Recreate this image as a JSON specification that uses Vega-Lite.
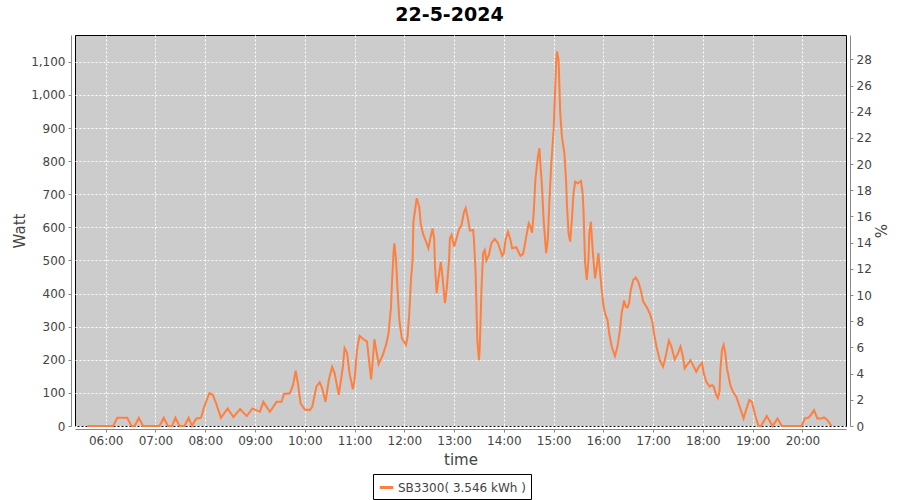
{
  "$schema": "https://vega.github.io/schema/vega-lite/v6.json",
  "autosize": "none",
  "width": 771,
  "height": 391,
  "padding": {"left": 75, "top": 35, "right": 54, "bottom": 74},
  "background": "white",
  "title": {"text": "22-5-2024", "fontSize": 19, "fontWeight": "bold", "font": "DejaVu Sans", "color": "black", "anchor": "middle", "frame": "bounds", "offset": 10},
  "config": {
    "view": {"fill": "#cccccc", "stroke": "black", "strokeWidth": 1},
    "axis": {"labelFont": "DejaVu Sans", "labelFontSize": 12, "labelColor": "#444444", "titleFont": "DejaVu Sans", "titleFontSize": 15, "titleFontWeight": "normal", "titleColor": "#444444", "domainColor": "#888888", "tickColor": "#888888", "tickSize": 3, "gridColor": "white", "gridDash": [2, 2], "gridWidth": 1, "gridOpacity": 1}
  },
  "data": {"values": [
    {"time": "2024-05-22T05:38:00", "watt": 0},
    {"time": "2024-05-22T06:09:00", "watt": 0},
    {"time": "2024-05-22T06:14:00", "watt": 25},
    {"time": "2024-05-22T06:26:00", "watt": 25},
    {"time": "2024-05-22T06:31:00", "watt": 0},
    {"time": "2024-05-22T06:35:00", "watt": 0},
    {"time": "2024-05-22T06:40:00", "watt": 25},
    {"time": "2024-05-22T06:45:00", "watt": 0},
    {"time": "2024-05-22T07:05:00", "watt": 0},
    {"time": "2024-05-22T07:10:00", "watt": 25},
    {"time": "2024-05-22T07:15:00", "watt": 0},
    {"time": "2024-05-22T07:20:00", "watt": 0},
    {"time": "2024-05-22T07:24:00", "watt": 25},
    {"time": "2024-05-22T07:29:00", "watt": 0},
    {"time": "2024-05-22T07:35:00", "watt": 0},
    {"time": "2024-05-22T07:40:00", "watt": 25},
    {"time": "2024-05-22T07:44:00", "watt": 0},
    {"time": "2024-05-22T07:49:00", "watt": 22},
    {"time": "2024-05-22T07:55:00", "watt": 25},
    {"time": "2024-05-22T07:59:00", "watt": 60},
    {"time": "2024-05-22T08:05:00", "watt": 99},
    {"time": "2024-05-22T08:09:00", "watt": 95},
    {"time": "2024-05-22T08:13:00", "watt": 69},
    {"time": "2024-05-22T08:19:00", "watt": 25},
    {"time": "2024-05-22T08:27:00", "watt": 53},
    {"time": "2024-05-22T08:34:00", "watt": 27},
    {"time": "2024-05-22T08:42:00", "watt": 51},
    {"time": "2024-05-22T08:50:00", "watt": 30},
    {"time": "2024-05-22T08:57:00", "watt": 53},
    {"time": "2024-05-22T09:02:00", "watt": 47},
    {"time": "2024-05-22T09:06:00", "watt": 43},
    {"time": "2024-05-22T09:10:00", "watt": 73},
    {"time": "2024-05-22T09:18:00", "watt": 43},
    {"time": "2024-05-22T09:26:00", "watt": 73},
    {"time": "2024-05-22T09:32:00", "watt": 73},
    {"time": "2024-05-22T09:35:00", "watt": 97},
    {"time": "2024-05-22T09:42:00", "watt": 99},
    {"time": "2024-05-22T09:46:00", "watt": 124},
    {"time": "2024-05-22T09:49:00", "watt": 167},
    {"time": "2024-05-22T09:52:00", "watt": 124},
    {"time": "2024-05-22T09:55:00", "watt": 68},
    {"time": "2024-05-22T10:00:00", "watt": 50},
    {"time": "2024-05-22T10:06:00", "watt": 48},
    {"time": "2024-05-22T10:09:00", "watt": 58},
    {"time": "2024-05-22T10:14:00", "watt": 119},
    {"time": "2024-05-22T10:18:00", "watt": 132},
    {"time": "2024-05-22T10:21:00", "watt": 114},
    {"time": "2024-05-22T10:25:00", "watt": 73},
    {"time": "2024-05-22T10:29:00", "watt": 139},
    {"time": "2024-05-22T10:33:00", "watt": 179},
    {"time": "2024-05-22T10:36:00", "watt": 159},
    {"time": "2024-05-22T10:41:00", "watt": 94},
    {"time": "2024-05-22T10:46:00", "watt": 179},
    {"time": "2024-05-22T10:48:00", "watt": 235},
    {"time": "2024-05-22T10:51:00", "watt": 220},
    {"time": "2024-05-22T10:54:00", "watt": 159},
    {"time": "2024-05-22T10:58:00", "watt": 111},
    {"time": "2024-05-22T11:00:00", "watt": 139},
    {"time": "2024-05-22T11:03:00", "watt": 230},
    {"time": "2024-05-22T11:06:00", "watt": 272},
    {"time": "2024-05-22T11:12:00", "watt": 260},
    {"time": "2024-05-22T11:15:00", "watt": 255},
    {"time": "2024-05-22T11:20:00", "watt": 141},
    {"time": "2024-05-22T11:22:00", "watt": 199},
    {"time": "2024-05-22T11:24:00", "watt": 262},
    {"time": "2024-05-22T11:29:00", "watt": 187},
    {"time": "2024-05-22T11:34:00", "watt": 214},
    {"time": "2024-05-22T11:38:00", "watt": 245},
    {"time": "2024-05-22T11:41:00", "watt": 280},
    {"time": "2024-05-22T11:44:00", "watt": 360},
    {"time": "2024-05-22T11:45:00", "watt": 426},
    {"time": "2024-05-22T11:47:00", "watt": 522},
    {"time": "2024-05-22T11:48:00", "watt": 552},
    {"time": "2024-05-22T11:50:00", "watt": 502},
    {"time": "2024-05-22T11:52:00", "watt": 406},
    {"time": "2024-05-22T11:54:00", "watt": 320},
    {"time": "2024-05-22T11:57:00", "watt": 265},
    {"time": "2024-05-22T12:02:00", "watt": 245},
    {"time": "2024-05-22T12:04:00", "watt": 270},
    {"time": "2024-05-22T12:06:00", "watt": 340},
    {"time": "2024-05-22T12:08:00", "watt": 441},
    {"time": "2024-05-22T12:10:00", "watt": 502},
    {"time": "2024-05-22T12:11:00", "watt": 617},
    {"time": "2024-05-22T12:15:00", "watt": 688},
    {"time": "2024-05-22T12:18:00", "watt": 662},
    {"time": "2024-05-22T12:20:00", "watt": 607},
    {"time": "2024-05-22T12:23:00", "watt": 577},
    {"time": "2024-05-22T12:27:00", "watt": 552},
    {"time": "2024-05-22T12:29:00", "watt": 537},
    {"time": "2024-05-22T12:31:00", "watt": 562},
    {"time": "2024-05-22T12:34:00", "watt": 597},
    {"time": "2024-05-22T12:36:00", "watt": 567},
    {"time": "2024-05-22T12:37:00", "watt": 481},
    {"time": "2024-05-22T12:39:00", "watt": 401},
    {"time": "2024-05-22T12:41:00", "watt": 441},
    {"time": "2024-05-22T12:44:00", "watt": 496},
    {"time": "2024-05-22T12:46:00", "watt": 451},
    {"time": "2024-05-22T12:49:00", "watt": 371},
    {"time": "2024-05-22T12:51:00", "watt": 411},
    {"time": "2024-05-22T12:54:00", "watt": 502},
    {"time": "2024-05-22T12:55:00", "watt": 567},
    {"time": "2024-05-22T12:57:00", "watt": 577},
    {"time": "2024-05-22T13:00:00", "watt": 542},
    {"time": "2024-05-22T13:03:00", "watt": 567},
    {"time": "2024-05-22T13:06:00", "watt": 594},
    {"time": "2024-05-22T13:09:00", "watt": 607},
    {"time": "2024-05-22T13:12:00", "watt": 647},
    {"time": "2024-05-22T13:14:00", "watt": 658},
    {"time": "2024-05-22T13:17:00", "watt": 622},
    {"time": "2024-05-22T13:19:00", "watt": 590},
    {"time": "2024-05-22T13:23:00", "watt": 592},
    {"time": "2024-05-22T13:24:00", "watt": 562},
    {"time": "2024-05-22T13:26:00", "watt": 461},
    {"time": "2024-05-22T13:28:00", "watt": 260},
    {"time": "2024-05-22T13:30:00", "watt": 199},
    {"time": "2024-05-22T13:31:00", "watt": 240},
    {"time": "2024-05-22T13:33:00", "watt": 411},
    {"time": "2024-05-22T13:35:00", "watt": 522},
    {"time": "2024-05-22T13:37:00", "watt": 532},
    {"time": "2024-05-22T13:39:00", "watt": 500},
    {"time": "2024-05-22T13:42:00", "watt": 517},
    {"time": "2024-05-22T13:45:00", "watt": 552},
    {"time": "2024-05-22T13:49:00", "watt": 565},
    {"time": "2024-05-22T13:53:00", "watt": 552},
    {"time": "2024-05-22T13:58:00", "watt": 514},
    {"time": "2024-05-22T14:00:00", "watt": 522},
    {"time": "2024-05-22T14:02:00", "watt": 562},
    {"time": "2024-05-22T14:05:00", "watt": 587},
    {"time": "2024-05-22T14:08:00", "watt": 562},
    {"time": "2024-05-22T14:10:00", "watt": 537},
    {"time": "2024-05-22T14:15:00", "watt": 540},
    {"time": "2024-05-22T14:20:00", "watt": 514},
    {"time": "2024-05-22T14:23:00", "watt": 519},
    {"time": "2024-05-22T14:25:00", "watt": 542},
    {"time": "2024-05-22T14:27:00", "watt": 572},
    {"time": "2024-05-22T14:30:00", "watt": 612},
    {"time": "2024-05-22T14:32:00", "watt": 602},
    {"time": "2024-05-22T14:34:00", "watt": 584},
    {"time": "2024-05-22T14:36:00", "watt": 643},
    {"time": "2024-05-22T14:38:00", "watt": 743},
    {"time": "2024-05-22T14:41:00", "watt": 813},
    {"time": "2024-05-22T14:43:00", "watt": 839},
    {"time": "2024-05-22T14:44:00", "watt": 794},
    {"time": "2024-05-22T14:46:00", "watt": 723},
    {"time": "2024-05-22T14:48:00", "watt": 622},
    {"time": "2024-05-22T14:51:00", "watt": 522},
    {"time": "2024-05-22T14:53:00", "watt": 562},
    {"time": "2024-05-22T14:55:00", "watt": 683},
    {"time": "2024-05-22T14:57:00", "watt": 784},
    {"time": "2024-05-22T15:00:00", "watt": 894},
    {"time": "2024-05-22T15:02:00", "watt": 1025},
    {"time": "2024-05-22T15:03:00", "watt": 1096},
    {"time": "2024-05-22T15:04:00", "watt": 1131},
    {"time": "2024-05-22T15:06:00", "watt": 1106},
    {"time": "2024-05-22T15:07:00", "watt": 1025},
    {"time": "2024-05-22T15:08:00", "watt": 945},
    {"time": "2024-05-22T15:10:00", "watt": 874},
    {"time": "2024-05-22T15:13:00", "watt": 824},
    {"time": "2024-05-22T15:15:00", "watt": 743},
    {"time": "2024-05-22T15:16:00", "watt": 673},
    {"time": "2024-05-22T15:18:00", "watt": 582},
    {"time": "2024-05-22T15:20:00", "watt": 557},
    {"time": "2024-05-22T15:22:00", "watt": 622},
    {"time": "2024-05-22T15:24:00", "watt": 703},
    {"time": "2024-05-22T15:26:00", "watt": 738},
    {"time": "2024-05-22T15:29:00", "watt": 733},
    {"time": "2024-05-22T15:33:00", "watt": 740},
    {"time": "2024-05-22T15:35:00", "watt": 703},
    {"time": "2024-05-22T15:36:00", "watt": 652},
    {"time": "2024-05-22T15:37:00", "watt": 572},
    {"time": "2024-05-22T15:38:00", "watt": 492},
    {"time": "2024-05-22T15:40:00", "watt": 441},
    {"time": "2024-05-22T15:42:00", "watt": 502},
    {"time": "2024-05-22T15:43:00", "watt": 582},
    {"time": "2024-05-22T15:45:00", "watt": 617},
    {"time": "2024-05-22T15:46:00", "watt": 572},
    {"time": "2024-05-22T15:48:00", "watt": 502},
    {"time": "2024-05-22T15:50:00", "watt": 446},
    {"time": "2024-05-22T15:52:00", "watt": 481},
    {"time": "2024-05-22T15:54:00", "watt": 522},
    {"time": "2024-05-22T15:55:00", "watt": 492},
    {"time": "2024-05-22T15:58:00", "watt": 411},
    {"time": "2024-05-22T16:00:00", "watt": 366},
    {"time": "2024-05-22T16:02:00", "watt": 340},
    {"time": "2024-05-22T16:05:00", "watt": 320},
    {"time": "2024-05-22T16:07:00", "watt": 280},
    {"time": "2024-05-22T16:10:00", "watt": 240},
    {"time": "2024-05-22T16:14:00", "watt": 211},
    {"time": "2024-05-22T16:17:00", "watt": 240},
    {"time": "2024-05-22T16:20:00", "watt": 290},
    {"time": "2024-05-22T16:22:00", "watt": 340},
    {"time": "2024-05-22T16:25:00", "watt": 379},
    {"time": "2024-05-22T16:27:00", "watt": 360},
    {"time": "2024-05-22T16:29:00", "watt": 358},
    {"time": "2024-05-22T16:31:00", "watt": 371},
    {"time": "2024-05-22T16:33:00", "watt": 411},
    {"time": "2024-05-22T16:36:00", "watt": 441},
    {"time": "2024-05-22T16:39:00", "watt": 448},
    {"time": "2024-05-22T16:42:00", "watt": 436},
    {"time": "2024-05-22T16:45:00", "watt": 411},
    {"time": "2024-05-22T16:48:00", "watt": 376},
    {"time": "2024-05-22T16:52:00", "watt": 360},
    {"time": "2024-05-22T16:56:00", "watt": 340},
    {"time": "2024-05-22T16:59:00", "watt": 315},
    {"time": "2024-05-22T17:01:00", "watt": 280},
    {"time": "2024-05-22T17:04:00", "watt": 240},
    {"time": "2024-05-22T17:08:00", "watt": 199},
    {"time": "2024-05-22T17:12:00", "watt": 179},
    {"time": "2024-05-22T17:15:00", "watt": 209},
    {"time": "2024-05-22T17:19:00", "watt": 258},
    {"time": "2024-05-22T17:22:00", "watt": 240},
    {"time": "2024-05-22T17:26:00", "watt": 201},
    {"time": "2024-05-22T17:30:00", "watt": 220},
    {"time": "2024-05-22T17:33:00", "watt": 240},
    {"time": "2024-05-22T17:36:00", "watt": 209},
    {"time": "2024-05-22T17:38:00", "watt": 174},
    {"time": "2024-05-22T17:45:00", "watt": 199},
    {"time": "2024-05-22T17:48:00", "watt": 184},
    {"time": "2024-05-22T17:52:00", "watt": 164},
    {"time": "2024-05-22T17:55:00", "watt": 179},
    {"time": "2024-05-22T17:59:00", "watt": 191},
    {"time": "2024-05-22T18:01:00", "watt": 159},
    {"time": "2024-05-22T18:04:00", "watt": 134},
    {"time": "2024-05-22T18:08:00", "watt": 119},
    {"time": "2024-05-22T18:11:00", "watt": 124},
    {"time": "2024-05-22T18:13:00", "watt": 119},
    {"time": "2024-05-22T18:16:00", "watt": 94},
    {"time": "2024-05-22T18:18:00", "watt": 84},
    {"time": "2024-05-22T18:20:00", "watt": 104},
    {"time": "2024-05-22T18:21:00", "watt": 169},
    {"time": "2024-05-22T18:23:00", "watt": 230},
    {"time": "2024-05-22T18:25:00", "watt": 245},
    {"time": "2024-05-22T18:27:00", "watt": 220},
    {"time": "2024-05-22T18:29:00", "watt": 174},
    {"time": "2024-05-22T18:33:00", "watt": 124},
    {"time": "2024-05-22T18:36:00", "watt": 104},
    {"time": "2024-05-22T18:40:00", "watt": 89},
    {"time": "2024-05-22T18:43:00", "watt": 68},
    {"time": "2024-05-22T18:49:00", "watt": 23},
    {"time": "2024-05-22T18:52:00", "watt": 48},
    {"time": "2024-05-22T18:56:00", "watt": 79},
    {"time": "2024-05-22T18:59:00", "watt": 73},
    {"time": "2024-05-22T19:03:00", "watt": 33},
    {"time": "2024-05-22T19:07:00", "watt": 0},
    {"time": "2024-05-22T19:10:00", "watt": 0},
    {"time": "2024-05-22T19:17:00", "watt": 30},
    {"time": "2024-05-22T19:24:00", "watt": 0},
    {"time": "2024-05-22T19:30:00", "watt": 23},
    {"time": "2024-05-22T19:35:00", "watt": 0},
    {"time": "2024-05-22T19:59:00", "watt": 0},
    {"time": "2024-05-22T20:03:00", "watt": 23},
    {"time": "2024-05-22T20:07:00", "watt": 25},
    {"time": "2024-05-22T20:10:00", "watt": 33},
    {"time": "2024-05-22T20:14:00", "watt": 48},
    {"time": "2024-05-22T20:18:00", "watt": 23},
    {"time": "2024-05-22T20:23:00", "watt": 23},
    {"time": "2024-05-22T20:26:00", "watt": 26},
    {"time": "2024-05-22T20:30:00", "watt": 18},
    {"time": "2024-05-22T20:35:00", "watt": 0}
  ]},
  "layer": [
    {
      "mark": {"type": "line", "strokeWidth": 2, "color": "#ff7f3f"},
      "encoding": {
        "x": {"field": "time", "type": "temporal", "title": "time",
          "scale": {"domain": [{"year": 2024, "month": 5, "date": 22, "hours": 5, "minutes": 23}, {"year": 2024, "month": 5, "date": 22, "hours": 20, "minutes": 52, "seconds": 30}]},
          "axis": {"format": "%H:%M", "offset": 3, "labelPadding": 3, "titlePadding": 6, "labelFlush": false}},
        "y": {"field": "watt", "type": "quantitative", "title": "Watt",
          "scale": {"domain": [0, 1181], "nice": false},
          "axis": {"values": [0, 100, 200, 300, 400, 500, 600, 700, 800, 900, 1000, 1100], "format": ",d", "offset": 4, "labelPadding": 3, "titlePadding": 3}},
        "color": {"datum": "SB3300( 3.546 kWh )", "type": "nominal",
          "scale": {"range": ["#ff7f3f"]},
          "legend": {"title": null, "orient": "none", "legendX": 298, "legendY": 439, "direction": "horizontal", "symbolType": "stroke", "symbolStrokeWidth": 3, "symbolSize": 180, "labelFont": "DejaVu Sans", "labelFontSize": 12, "labelColor": "#444444", "strokeColor": "black", "fillColor": "white", "padding": 5, "labelOffset": 3}}
      }
    },
    {
      "mark": {"type": "line", "strokeOpacity": 0, "clip": true},
      "encoding": {
        "x": {"field": "time", "type": "temporal"},
        "y": {"field": "watt", "type": "quantitative", "title": "%",
          "scale": {"domain": [0, 29.86], "nice": false},
          "axis": {"orient": "right", "grid": false, "values": [0, 2, 4, 6, 8, 10, 12, 14, 16, 18, 20, 22, 24, 26, 28], "offset": 4, "labelPadding": 3, "titlePadding": 0}}
      }
    }
  ],
  "resolve": {"scale": {"y": "independent"}}
}
